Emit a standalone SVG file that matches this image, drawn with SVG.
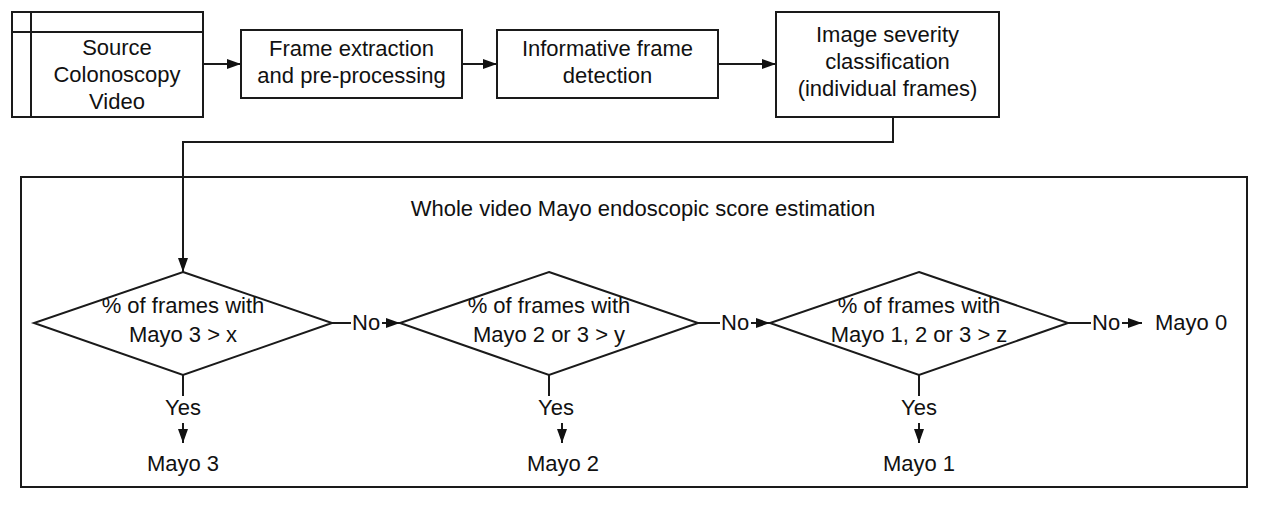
<svg xmlns="http://www.w3.org/2000/svg" width="1266" height="516" viewBox="0 0 1266 516">
<defs>
<marker id="ah" viewBox="0 0 14 10" refX="14" refY="5" markerWidth="14" markerHeight="10" markerUnits="userSpaceOnUse" orient="auto">
<path d="M0,0 L14,5 L0,10 Z" fill="#111"/>
</marker>
<style>
.box{fill:#fff;stroke:#1a1a1a;stroke-width:2}
.ln{fill:none;stroke:#1a1a1a;stroke-width:2}
.t{font-family:"Liberation Sans",Arial,sans-serif;font-size:22px;fill:#111;text-anchor:middle}
.lt{font-family:"Liberation Sans",Arial,sans-serif;font-size:22px;fill:#111;text-anchor:start}
.bg{fill:#fff}
</style>
</defs>
<rect width="1266" height="516" fill="#fff"/>

<g id="frame-box">
<rect class="box" x="21" y="177" width="1226" height="310"/>
<text class="t" x="643" y="216">Whole video Mayo endoscopic score estimation</text>
</g>

<g id="connectors">
<line class="ln" x1="203" y1="64" x2="241" y2="64" marker-end="url(#ah)"/>
<line class="ln" x1="462" y1="64" x2="497" y2="64" marker-end="url(#ah)"/>
<line class="ln" x1="718" y1="64" x2="776" y2="64" marker-end="url(#ah)"/>
<polyline class="ln" points="893,117 893,142 183,142 183,272" marker-end="url(#ah)"/>
<line class="ln" x1="332" y1="323" x2="400" y2="323" marker-end="url(#ah)"/>
<line class="ln" x1="698" y1="323" x2="770" y2="323" marker-end="url(#ah)"/>
<line class="ln" x1="1068" y1="323" x2="1142" y2="323" marker-end="url(#ah)"/>
<rect class="bg" x="351" y="310" width="31" height="26"/>
<text class="lt" x="352" y="330">No</text>
<rect class="bg" x="720" y="310" width="31" height="26"/>
<text class="lt" x="721" y="330">No</text>
<rect class="bg" x="1091" y="310" width="31" height="26"/>
<text class="lt" x="1092" y="330">No</text>
<line class="ln" x1="183" y1="375" x2="183" y2="396"/>
<line class="ln" x1="183" y1="423" x2="183" y2="443" marker-end="url(#ah)"/>
<text class="t" x="183" y="415">Yes</text>
<line class="ln" x1="549" y1="375" x2="549" y2="396"/>
<line class="ln" x1="562" y1="423" x2="562" y2="443" marker-end="url(#ah)"/>
<text class="t" x="556" y="415">Yes</text>
<line class="ln" x1="919" y1="375" x2="919" y2="396"/>
<line class="ln" x1="919" y1="423" x2="919" y2="443" marker-end="url(#ah)"/>
<text class="t" x="919" y="415">Yes</text>
</g>

<g id="source">
<rect class="box" x="12" y="12" width="191" height="105"/>
<line class="ln" x1="12" y1="32" x2="203" y2="32"/>
<line class="ln" x1="31" y1="12" x2="31" y2="117"/>
<text class="t" x="117" y="55">Source</text>
<text class="t" x="117" y="82">Colonoscopy</text>
<text class="t" x="117" y="109">Video</text>
</g>

<g id="frame-extraction">
<rect class="box" x="241" y="30" width="221" height="68"/>
<text class="t" x="351.5" y="56">Frame extraction</text>
<text class="t" x="351.5" y="83">and pre-processing</text>
</g>

<g id="informative">
<rect class="box" x="497" y="30" width="221" height="68"/>
<text class="t" x="607.5" y="56">Informative frame</text>
<text class="t" x="607.5" y="83">detection</text>
</g>

<g id="severity">
<rect class="box" x="776" y="12" width="223" height="105"/>
<text class="t" x="887.5" y="42">Image severity</text>
<text class="t" x="887.5" y="69">classification</text>
<text class="t" x="887.5" y="96">(individual frames)</text>
</g>

<g id="decision1">
<polygon class="box" points="183,272 332,323 183,375 34,323"/>
<text class="t" x="183" y="313">% of frames with</text>
<text class="t" x="183" y="342">Mayo 3 &gt; x</text>
</g>

<g id="decision2">
<polygon class="box" points="549,272 698,323 549,375 400,323"/>
<text class="t" x="549" y="313">% of frames with</text>
<text class="t" x="549" y="342">Mayo 2 or 3 &gt; y</text>
</g>

<g id="decision3">
<polygon class="box" points="919,272 1068,323 919,375 770,323"/>
<text class="t" x="919" y="313">% of frames with</text>
<text class="t" x="919" y="342">Mayo 1, 2 or 3 &gt; z</text>
</g>

<g id="mayo3"><text class="t" x="183" y="471">Mayo 3</text></g>
<g id="mayo2"><text class="t" x="563" y="471">Mayo 2</text></g>
<g id="mayo1"><text class="t" x="919" y="471">Mayo 1</text></g>
<g id="mayo0"><text class="lt" x="1155" y="330">Mayo 0</text></g>
</svg>
